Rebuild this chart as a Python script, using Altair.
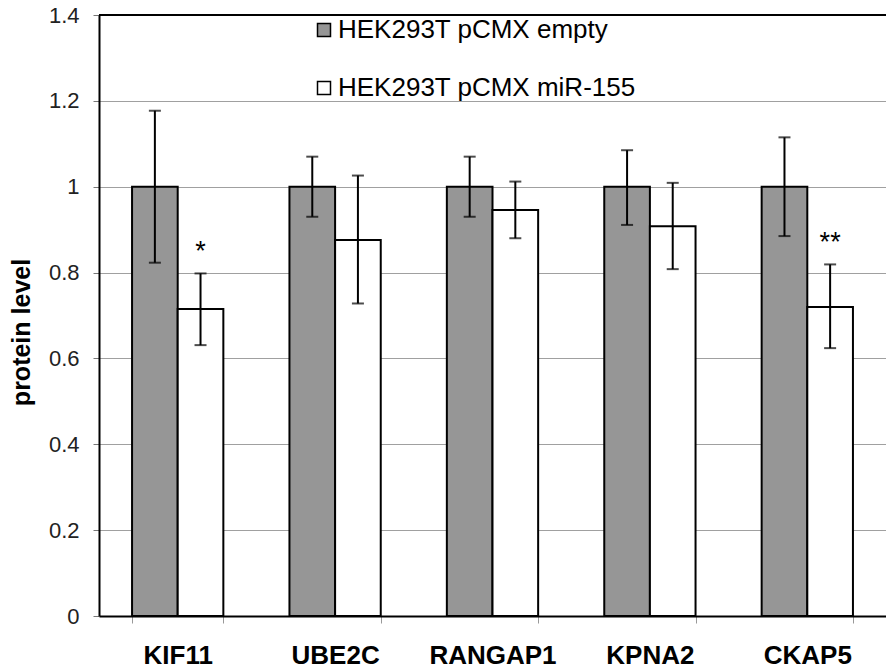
import altair as alt
import pandas as pd

genes = ["KIF11", "UBE2C", "RANGAP1", "KPNA2", "CKAP5"]
groups = ["HEK293T pCMX empty", "HEK293T pCMX miR-155"]

empty_mean = [1.0, 1.0, 1.0, 1.0, 1.0]
empty_hi = [1.177, 1.070, 1.070, 1.085, 1.115]
empty_lo = [0.823, 0.930, 0.930, 0.911, 0.885]

mir_mean = [0.715, 0.876, 0.946, 0.908, 0.720]
mir_hi = [0.798, 1.026, 1.012, 1.009, 0.819]
mir_lo = [0.631, 0.728, 0.880, 0.808, 0.624]

sig = ["", "*", "", "", "", "", "", "", "", "**"]

y_ticks = [0, 0.2, 0.4, 0.6, 0.8, 1, 1.2, 1.4]

rows = []
for i, g in enumerate(genes):
    rows.append({"gene": g, "group": groups[0], "mean": empty_mean[i],
                 "lo": empty_lo[i], "hi": empty_hi[i]})
    rows.append({"gene": g, "group": groups[1], "mean": mir_mean[i],
                 "lo": mir_lo[i], "hi": mir_hi[i]})
df = pd.DataFrame(rows)
df["sig"] = sig

W, H = 787, 601
FONT = "Liberation Sans"

x_enc = alt.X(
    "gene:N", sort=genes,
    scale=alt.Scale(paddingInner=0.42, paddingOuter=0.21),
    axis=alt.Axis(title=None, labelFont=FONT, labelFontWeight="bold",
                  labelFontSize=26, labelColor="black", labelAngle=0,
                  tickBand="extent", tickColor="#999999", tickSize=7,
                  domainColor="black", domainWidth=2, labelPadding=19,
                  grid=False),
)
xo_enc = alt.XOffset("group:N", sort=groups,
                     scale=alt.Scale(paddingInner=0, paddingOuter=0))

base = alt.Chart(df).encode(x=x_enc, xOffset=xo_enc)

y_scale = alt.Scale(domain=[0, 1.4], nice=False)

bars = base.mark_bar(stroke="black", strokeWidth=2).encode(
    y=alt.Y("mean:Q", scale=y_scale,
            axis=alt.Axis(values=y_ticks, format="~g", title="protein level",
                          labelFont=FONT, labelFontSize=22, labelColor="#222222",
                          labelPadding=14, tickSize=6, tickColor="#777777",
                          domainColor="black", domainWidth=2,
                          grid=True, gridColor="#a0a0a0", gridWidth=1,
                          titleFont=FONT, titleFontSize=25, titleFontWeight="bold",
                          titleColor="black", titlePadding=14, titleY=317)),
    fill=alt.Fill("group:N", sort=groups,
                  scale=alt.Scale(domain=groups, range=["#969696", "#ffffff"]),
                  legend=alt.Legend(title=None, orient="none", legendX=212,
                                    legendY=2, direction="vertical",
                                    symbolType="square", symbolSize=169,
                                    symbolStrokeColor="black",
                                    symbolStrokeWidth=1.5,
                                    labelFontSize=26, labelFont=FONT,
                                    labelColor="black", rowPadding=32,
                                    labelOffset=1, padding=0, labelLimit=500)),
)

err = base.mark_rule(color="black", strokeWidth=2).encode(
    y=alt.Y("lo:Q", scale=y_scale), y2="hi:Q")
cap_hi = base.mark_tick(color="black", thickness=2, size=12,
                        orient="horizontal").encode(y=alt.Y("hi:Q", scale=y_scale))
cap_lo = base.mark_tick(color="black", thickness=2, size=12,
                        orient="horizontal").encode(y=alt.Y("lo:Q", scale=y_scale))

stars = base.mark_text(font=FONT, fontSize=27, color="black",
                       baseline="alphabetic", dy=-13).encode(
    y=alt.Y("hi:Q", scale=y_scale), text="sig:N")

top = alt.Chart(pd.DataFrame({"a": [0]})).mark_rule(
    color="black", strokeWidth=2).encode(
    x=alt.value(0), x2=alt.value(W), y=alt.value(0))

chart = alt.layer(bars, err, cap_hi, cap_lo, stars, top).properties(
    width=W, height=H,
    padding={"left": 99, "top": 15, "right": 0, "bottom": 52},
    autosize=alt.AutoSizeParams(type="none"),
    background="white",
).configure_view(stroke=None)

chart.save("out.html", embed_options={"renderer": "svg", "actions": False})
